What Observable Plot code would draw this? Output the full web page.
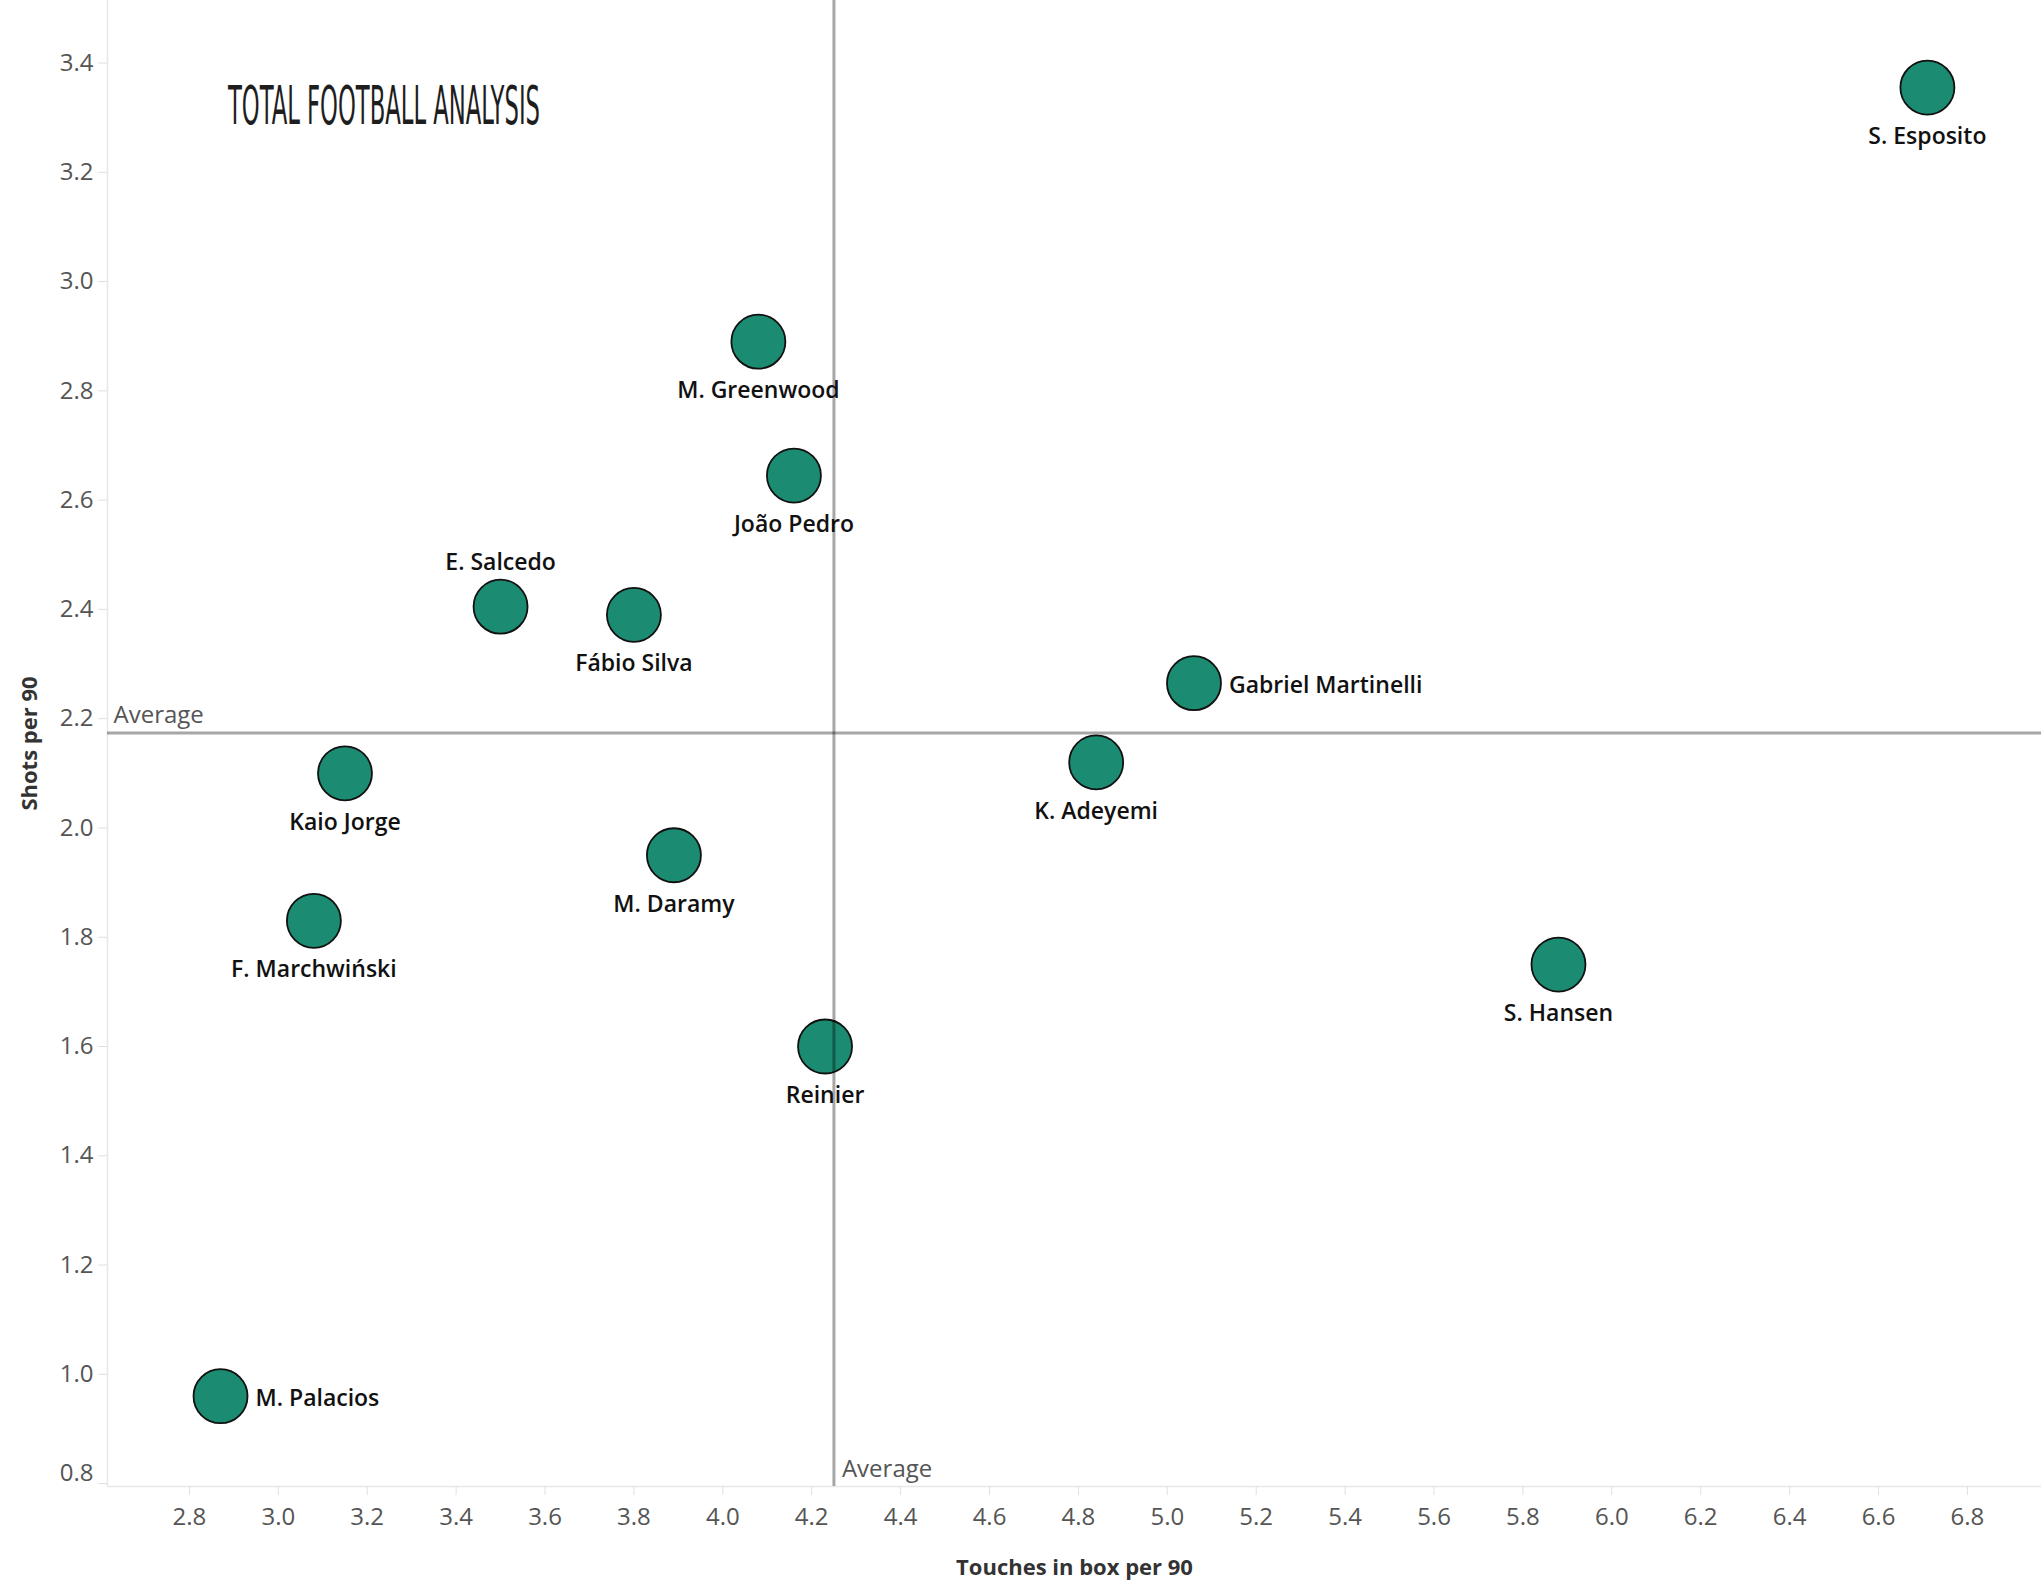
<!DOCTYPE html>
<html>
<head>
<meta charset="utf-8">
<script src="https://cdn.jsdelivr.net/npm/d3@7"></script>
<script src="https://cdn.jsdelivr.net/npm/@observablehq/plot@0.6"></script>
<style>
  html, body { margin: 0; padding: 0; background: #fff; }
  #chart svg { display: block; }
</style>
</head>
<body>
<div id="chart"></div>
<script>
// ---- Data ----
const players = ["S. Esposito", "M. Greenwood", "João Pedro", "E. Salcedo", "Fábio Silva",
  "Gabriel Martinelli", "Kaio Jorge", "K. Adeyemi", "M. Daramy", "F. Marchwiński",
  "S. Hansen", "Reinier", "M. Palacios"];
const touchesInBox = [6.71, 4.08, 4.16, 3.50, 3.80, 5.06, 3.15, 4.84, 3.89, 3.08, 5.88, 4.23, 2.87];
const shotsPer90   = [3.355, 2.89, 2.645, 2.405, 2.39, 2.265, 2.10, 2.12, 1.95, 1.83, 1.75, 1.60, 0.96];
const labelSide = ["below", "below", "below", "above", "below", "right", "below", "below",
  "below", "below", "below", "below", "right"];
const xTicks = [2.8, 3.0, 3.2, 3.4, 3.6, 3.8, 4.0, 4.2, 4.4, 4.6, 4.8, 5.0, 5.2, 5.4, 5.6, 5.8, 6.0, 6.2, 6.4, 6.6, 6.8];
const yTicks = [0.8, 1.0, 1.2, 1.4, 1.6, 1.8, 2.0, 2.2, 2.4, 2.6, 2.8, 3.0, 3.2, 3.4];
const xTitle = "Touches in box per 90";
const yTitle = "Shots per 90";
const avgLabel = "Average";
const logoText = "TOTAL FOOTBALL ANALYSIS";

const data = players.map((name, i) => ({name, x: touchesInBox[i], y: shotsPer90[i], side: labelSide[i]}));
const avgX = d3.mean(touchesInBox);
const avgY = d3.mean(shotsPer90);

// ---- Layout ----
const W = 2042, H = 1590;
const xDomain = [2.6157, 6.9667];
const yDomain = [0.7947, 3.5144];
const fmt = d3.format(".1f");
const nameStyle = {fill: "#111", fontSize: 23, fontWeight: 600};
const axisStyle = {tickFormat: fmt, stroke: "#e0e0e0", fill: "#555", label: null};
const bottomTick = yTicks[0];

const chart = Plot.plot({
  width: W,
  height: H,
  marginLeft: 107,
  marginRight: 1,
  marginTop: 0,
  marginBottom: 104,
  x: {domain: xDomain},
  y: {domain: yDomain},
  style: {fontFamily: "'Open Sans', sans-serif", fontSize: "24px", background: "#fff", color: "#555"},
  marks: [
    Plot.ruleX([xDomain[0]], {stroke: "#e8e8e8", strokeWidth: 1.5}),
    Plot.ruleY([yDomain[0]], {stroke: "#e8e8e8", strokeWidth: 1.5}),
    Plot.axisX({ticks: xTicks, tickSize: 9, tickPadding: 12, ...axisStyle}),
    Plot.axisY({ticks: yTicks.filter(t => t !== bottomTick), tickSize: 9, tickPadding: 5, ...axisStyle}),
    Plot.axisY({ticks: [bottomTick], tickSize: 9, text: null, ...axisStyle}),
    Plot.axisY({ticks: [bottomTick], tickSize: 0, tickPadding: 14, dy: -10, ...axisStyle}),
    Plot.text([xTitle], {frameAnchor: "bottom", dy: 81, textAnchor: "middle", lineAnchor: "middle", fill: "#333", fontSize: 22, fontWeight: 700}),
    Plot.text([yTitle], {frameAnchor: "left", dx: -78, rotate: -90, textAnchor: "middle", lineAnchor: "middle", fill: "#333", fontSize: 22, fontWeight: 700}),
    Plot.dot(data, {x: "x", y: "y", r: 27, fill: "#1b8b71", stroke: "#111", strokeWidth: 1.8}),
    Plot.text(data.filter(d => d.side === "below"), {x: "x", y: "y", text: "name", dy: 49, lineAnchor: "middle", ...nameStyle}),
    Plot.text(data.filter(d => d.side === "above"), {x: "x", y: "y", text: "name", dy: -44, lineAnchor: "middle", ...nameStyle}),
    Plot.text(data.filter(d => d.side === "right"), {x: "x", y: "y", text: "name", dx: 35, dy: 2, textAnchor: "start", lineAnchor: "middle", ...nameStyle}),
    Plot.ruleX([avgX], {stroke: "#000", strokeOpacity: 0.35, strokeWidth: 3}),
    Plot.ruleY([avgY], {stroke: "#000", strokeOpacity: 0.35, strokeWidth: 3}),
    Plot.text([avgLabel], {frameAnchor: "left", y: () => avgY, dx: 6, dy: -18, textAnchor: "start", lineAnchor: "middle", fill: "#555", fontSize: 24}),
    Plot.text([avgLabel], {frameAnchor: "bottom", x: () => avgX, dx: 8, dy: -17, textAnchor: "start", lineAnchor: "middle", fill: "#555", fontSize: 24})
  ]
});

document.getElementById("chart").appendChild(chart);

// Logo (as text)
const svg = d3.select(chart);
svg.append("text")
  .attr("x", 228)
  .attr("y", 124)
  .attr("text-anchor", "start")
  .attr("textLength", 312)
  .attr("lengthAdjust", "spacingAndGlyphs")
  .attr("font-family", "'DejaVu Sans Condensed', 'DejaVu Sans', sans-serif")
  .attr("font-size", 54)
  .attr("fill", "#1e1e1e")
  .text(logoText);
</script>
</body>
</html>
